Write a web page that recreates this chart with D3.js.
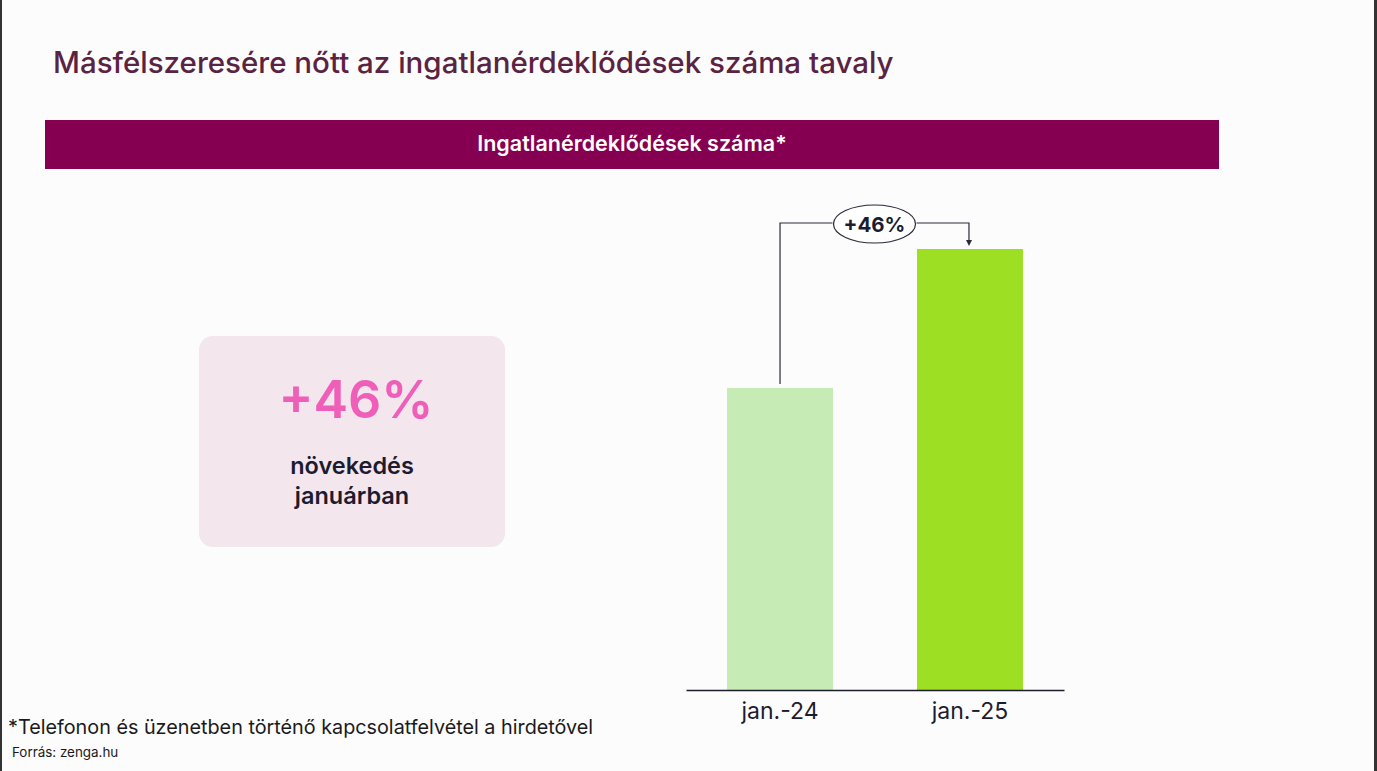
<!DOCTYPE html>
<html><head><meta charset="utf-8">
<script src="https://cdn.jsdelivr.net/npm/d3@7"></script>
<style>
html,body{margin:0;padding:0;background:#fcfcfc;}
svg{display:block;}
text{font-family:Inter,"Noto Sans",sans-serif;}
</style></head>
<body>
<script>
const title = "Másfélszeresére nőtt az ingatlanérdeklődések száma tavaly";
const panelTitle = "Ingatlanérdeklődések száma*";
const categories = ["jan.-24", "jan.-25"];
const values = [100, 146];
const barColors = ["#c6ebb4", "#9de023"];
const changeLabel = "+46%";
const kpiValue = "+46%";
const kpiLines = ["növekedés", "januárban"];
const footnote = "*Telefonon és üzenetben történő kapcsolatfelvétel a hirdetővel";
const source = "Forrás: zenga.hu";

const W = 1377, H = 771;
const svg = d3.select("body").append("svg").attr("width", W).attr("height", H);
svg.append("rect").attr("width", W).attr("height", H).attr("fill", "#fcfcfc");
// frame edges
svg.append("rect").attr("x", 0).attr("y", 0).attr("width", 2).attr("height", H).attr("fill", "#333");
svg.append("rect").attr("x", 1374).attr("y", 0).attr("width", 3).attr("height", H).attr("fill", "#333");

svg.append("text").attr("x", 53).attr("y", 73).attr("font-size", 29.5).attr("font-weight", 500)
  .attr("fill", "#5b2343").text(title);

svg.append("rect").attr("x", 45).attr("y", 120).attr("width", 1174).attr("height", 49).attr("fill", "#850050");
svg.append("text").attr("x", 632).attr("y", 151).attr("text-anchor", "middle").attr("font-size", 21.5)
  .attr("font-weight", 600).attr("fill", "#ffffff").text(panelTitle);

// KPI box
svg.append("rect").attr("x", 199).attr("y", 336).attr("width", 306).attr("height", 211).attr("rx", 14)
  .attr("fill", "#f3e6ec");
svg.append("text").attr("x", 356).attr("y", 418).attr("text-anchor", "middle").attr("font-size", 52)
  .attr("font-weight", 600).attr("fill", "#ef5fb9").text(kpiValue);
kpiLines.forEach((t, i) => {
  svg.append("text").attr("x", 352).attr("y", 474 + i * 30).attr("text-anchor", "middle").attr("font-size", 23.5)
    .attr("font-weight", 600).attr("fill", "#1c1c30").text(t);
});

// chart
const x = d3.scaleBand().domain(categories).range([686, 1064]).paddingInner(0.442).paddingOuter(0.216);
const y = d3.scaleLinear().domain([0, 146]).range([690, 249]);

svg.selectAll("rect.bar").data(categories).enter().append("rect").attr("class", "bar")
  .attr("x", d => x(d)).attr("width", x.bandwidth())
  .attr("y", (d, i) => y(values[i])).attr("height", (d, i) => y(0) - y(values[i]))
  .attr("fill", (d, i) => barColors[i]);

const xAxis = svg.append("g").attr("transform", `translate(0,${y(0)})`)
  .call(d3.axisBottom(x).tickSize(0).tickPadding(12));
xAxis.select(".domain").attr("stroke", "#1c1c2a").attr("stroke-width", 1.5);
xAxis.selectAll("text").attr("font-size", 23).attr("fill", "#1c1c30")
  .attr("font-family", "Inter, sans-serif").attr("dy", "0.75em");

// annotation
const c1 = x(categories[0]) + x.bandwidth() / 2;
const c2 = x(categories[1]) + x.bandwidth() / 2;
const yTop = 223;
const ex = (c1 + c2) / 2 - 0.5, ey = 224;
svg.append("path").attr("d", `M${c1},${y(values[0]) - 4}V${yTop}H${ex - 42}`)
  .attr("fill", "none").attr("stroke", "#2a2a3a").attr("stroke-width", 1.2);
svg.append("path").attr("d", `M${ex + 42},${yTop}H${c2 - 1}V${y(values[1]) - 9}`)
  .attr("fill", "none").attr("stroke", "#2a2a3a").attr("stroke-width", 1.2);
svg.append("path").attr("d", `M${c2 - 4},${y(values[1]) - 9}L${c2 + 2},${y(values[1]) - 9}L${c2 - 1},${y(values[1]) - 3}Z`)
  .attr("fill", "#2a2a3a");
svg.append("ellipse").attr("cx", ex).attr("cy", ey).attr("rx", 41).attr("ry", 19)
  .attr("fill", "#ffffff").attr("stroke", "#2a2a3a").attr("stroke-width", 1.2);
svg.append("text").attr("x", ex).attr("y", ey + 7.5).attr("text-anchor", "middle").attr("font-size", 20.5)
  .attr("font-weight", 700).attr("fill", "#1c1c30").text(changeLabel);

svg.append("text").attr("x", 8).attr("y", 734).attr("font-size", 19.8).attr("fill", "#1a1a1a").text(footnote);
svg.append("text").attr("x", 12).attr("y", 757).attr("font-size", 13.4).attr("fill", "#1a1a1a").text(source);
</script>
</body></html>
